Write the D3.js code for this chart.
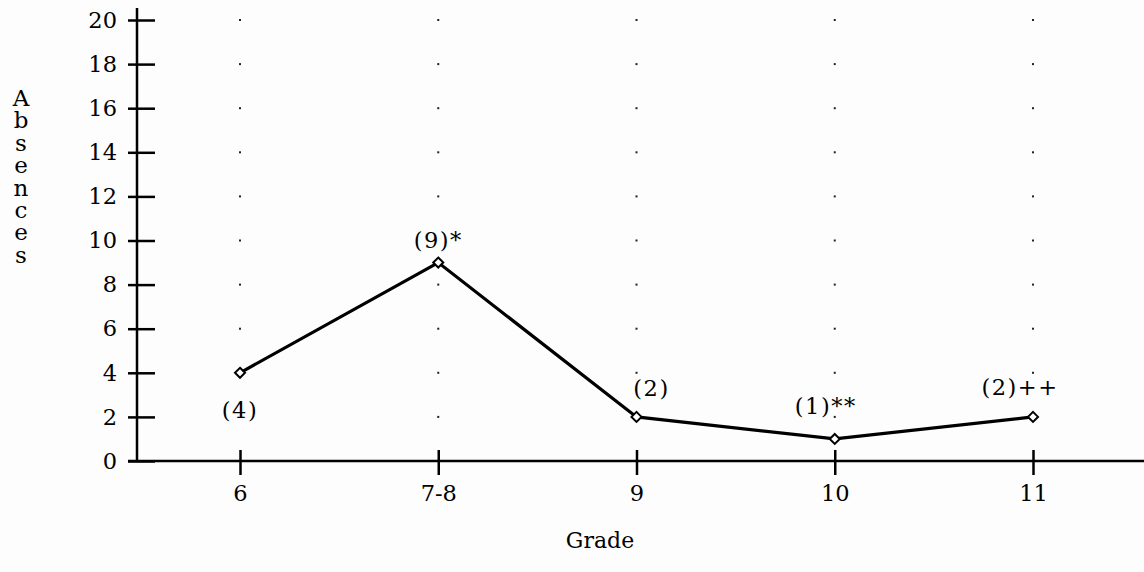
<!DOCTYPE html>
<html><head><meta charset="utf-8">
<script src="https://cdn.jsdelivr.net/npm/d3@7"></script>
<style>
html,body{margin:0;padding:0;background:#fdfdfd;}
svg{display:block;}
text{font-family:"DejaVu Serif","Liberation Serif",serif;fill:#000;}
</style></head>
<body>
<svg id="chart" width="1144" height="572"></svg>
<script>
const grades = ["6", "7-8", "9", "10", "11"];
const absences = [4, 9, 2, 1, 2];
const pointLabels = ["(4)", "(9)*", "(2)", "(1)**", "(2)++"];
const yTicks = [0, 2, 4, 6, 8, 10, 12, 14, 16, 18, 20];
const yTitle = "Absences";
const xTitle = "Grade";

const FONT = "DejaVu Serif";
const FS = 22.5;
const svg = d3.select("#chart");
const x = d3.scalePoint().domain(grades).range([240, 1033]);
const y = d3.scaleLinear().domain([0, 20]).range([461, 20]);
const x0 = 137;

// dotted grid
const dots = [];
grades.forEach(g => yTicks.filter(t => t > 0).forEach(t => dots.push([g, t])));
svg.append("g").selectAll("rect").data(dots).join("rect")
  .attr("x", d => x(d[0]) - 1).attr("y", d => y(d[1]) - 1)
  .attr("width", 2).attr("height", 2).attr("fill", "#222");

// y axis
const yAxis = svg.append("g").attr("transform", `translate(${x0},0)`)
  .call(d3.axisLeft(y).tickValues(yTicks).tickSizeOuter(0).tickPadding(14));
yAxis.select(".domain").remove();
yAxis.selectAll(".tick line").attr("x1", -9).attr("x2", 18).attr("stroke", "#000").attr("stroke-width", 2.5);
yAxis.selectAll(".tick text").attr("font-size", FS).attr("font-family", FONT).attr("fill", "#000");
svg.append("line").attr("x1", x0).attr("x2", x0).attr("y1", 8).attr("y2", y(0) + 1)
  .attr("stroke", "#000").attr("stroke-width", 2.5);

// x axis
const xAxis = svg.append("g").attr("transform", `translate(0,${y(0)})`)
  .call(d3.axisBottom(x).tickSizeOuter(0).tickPadding(27));
xAxis.select(".domain").remove();
xAxis.selectAll(".tick line").attr("y1", -11).attr("y2", 14).attr("stroke", "#000").attr("stroke-width", 2.5);
xAxis.selectAll(".tick text").attr("font-size", FS).attr("font-family", FONT).attr("fill", "#000").attr("dy", "0.3em");
svg.append("line").attr("x1", 128).attr("x2", 1144).attr("y1", y(0)).attr("y2", y(0))
  .attr("stroke", "#000").attr("stroke-width", 2.5);

// line
const pts = grades.map((g, i) => [x(g), y(absences[i])]);
svg.append("path").attr("d", d3.line()(pts)).attr("fill", "none")
  .attr("stroke", "#000").attr("stroke-width", 3.2);

// markers
svg.append("g").selectAll("path").data(pts).join("path")
  .attr("transform", d => `translate(${d[0]},${d[1]})`)
  .attr("d", d3.symbol(d3.symbolDiamond2, 64)())
  .attr("fill", "#fff").attr("stroke", "#000").attr("stroke-width", 2);

// point labels
const offs = [[0, 45], [0, -15], [15, -21], [-9, -25], [-13, -22]];
svg.append("g").selectAll("text").data(pointLabels).join("text")
  .attr("x", (d, i) => pts[i][0] + offs[i][0])
  .attr("y", (d, i) => pts[i][1] + offs[i][1])
  .attr("text-anchor", "middle").attr("font-size", FS).attr("font-family", FONT)
  .attr("stroke", "#fdfdfd").attr("stroke-width", 6).attr("paint-order", "stroke")
  .style("letter-spacing", "1.5px")
  .text(d => d);

// titles
svg.append("text").attr("x", 600).attr("y", 548).attr("text-anchor", "middle")
  .attr("font-size", 22).attr("font-family", FONT).text(xTitle);
svg.append("text").attr("x", 21).attr("y", 85)
  .attr("font-size", 23).attr("font-family", FONT)
  .style("writing-mode", "vertical-rl").style("text-orientation", "upright")
  .style("letter-spacing", "-3.6px")
  .text(yTitle);
</script>
</body></html>
